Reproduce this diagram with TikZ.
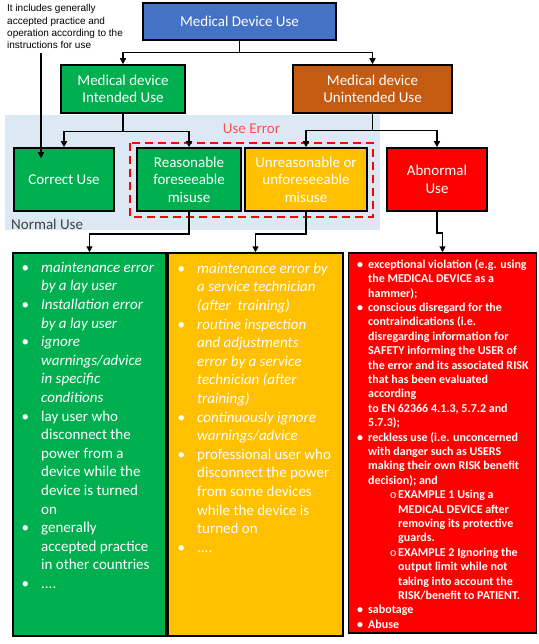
\documentclass[tikz,border=0pt]{standalone}
\usepackage{fontspec}
\setmainfont{Carlito}
\newfontfamily\notefont{Liberation Sans}
\usetikzlibrary{arrows.meta,calc}
\definecolor{cblue}{RGB}{68,114,196}
\definecolor{cgreen}{RGB}{0,176,80}
\definecolor{corange}{RGB}{197,90,17}
\definecolor{cyellow}{RGB}{255,192,0}
\definecolor{cred}{RGB}{255,0,0}
\definecolor{cbg}{RGB}{221,232,245}
\definecolor{cerr}{RGB}{255,80,80}
\definecolor{cnorm}{RGB}{64,64,64}
\newcommand\subi[1]{\makebox[30pt][l]{\hspace{22pt}\mdseries o}#1}
\newcommand\subc[1]{\hspace{30pt}#1}
\begin{document}
\begin{tikzpicture}[x=1pt,y=-1pt,
  box/.style={draw=black, line width=1.5pt, text=white, align=center,
    font=\fontsize{15}{17.5}\selectfont, inner sep=0pt},
  conn/.style={line width=1.5pt, draw=black},
  arr/.style={conn, -{Triangle[length=6pt,width=6pt]}},
  listtext/.style={anchor=north west, inner sep=0pt, text=white}]
\useasboundingbox (0,0) rectangle (538,644);
\fill[cbg] (5,115) rectangle (380,230);
\draw[cred, line width=1.5pt, dash pattern=on 8pt off 5pt] (130,143) rectangle (373,217);
\node[text=cerr, font=\fontsize{15}{17}\selectfont, inner sep=0pt] (uerr) at (251.5,129) {Use Error};
\node[text=cnorm, font=\fontsize{15}{17}\selectfont, inner sep=0pt, anchor=west] (nuse) at (11,224) {Normal Use};
\node[anchor=north west, inner sep=0pt, align=left, font=\notefont\fontsize{10}{12.3}\selectfont] (note) at (7,4.5)
 {It includes generally\\accepted practice and\\operation according to the\\instructions for use};
% boxes
\node[box, fill=cblue, minimum width=193pt, minimum height=37pt] (mdu) at (239.5,21.5) {Medical Device Use};
\node[box, fill=cgreen, minimum width=124pt, minimum height=48pt] (int) at (123,89) {Medical device\\Intended Use};
\node[box, fill=corange, minimum width=159pt, minimum height=48pt] (unint) at (372.5,89) {Medical device\\Unintended Use};
\node[box, fill=cgreen, minimum width=100pt, minimum height=63pt] (cu) at (64,179.5) {Correct Use};
\node[box, fill=cgreen, minimum width=104pt, minimum height=63pt] (rfm) at (189,179.5) {Reasonable\\foreseeable\\misuse};
\node[box, fill=cyellow, minimum width=122pt, minimum height=63pt] (ufm) at (306,179.5) {Unreasonable or\\unforeseeable\\misuse};
\node[box, fill=cred, minimum width=100pt, minimum height=63pt] (abn) at (437,179.5) {Abnormal\\Use};
\node[box, fill=cgreen, minimum width=153pt, minimum height=383pt] (glist) at (89.5,444.5) {};
\node[box, fill=cyellow, minimum width=175pt, minimum height=383pt] (ylist) at (255.5,444.5) {};
\node[box, fill=cred, minimum width=188pt, minimum height=380pt] (rlist) at (442.5,443) {};
% list texts
\node[listtext, font=\fontsize{15}{18.6}\selectfont] (gtext) at (21.5,259)
{\begin{tabular}{@{}p{19.5pt}@{}l@{}}
\textbullet & \textit{maintenance error}\\
 & \textit{by a lay user}\\
\textbullet & \textit{Installation error}\\
 & \textit{by a lay user}\\
\textbullet & \textit{ignore}\\
 & \textit{warnings/advice}\\
 & \textit{in specific}\\
 & \textit{conditions}\\
\textbullet & lay user who\\
 & disconnect the\\
 & power from a\\
 & device while the\\
 & device is turned\\
 & on\\
\textbullet & generally\\
 & accepted practice\\
 & in other countries\\
\textbullet & ....
\end{tabular}};
\node[listtext, font=\fontsize{15}{18.6}\selectfont] (ytext) at (177.5,260)
{\begin{tabular}{@{}p{19.5pt}@{}l@{}}
\textbullet & \textit{maintenance error by}\\
 & \textit{a service technician}\\
 & \textit{(after\ \ training)}\\
\textbullet & \textit{routine inspection}\\
 & \textit{and adjustments}\\
 & \textit{error by a service}\\
 & \textit{technician (after}\\
 & \textit{training)}\\
\textbullet & \textit{continuously ignore}\\
 & \textit{warnings/advice}\\
\textbullet & professional user who\\
 & disconnect the power\\
 & from some devices\\
 & while the device is\\
 & turned on\\
\textbullet & ....
\end{tabular}};
\node[listtext, font=\bfseries\fontsize{12}{14.4}\selectfont] (rtext) at (357,258)
{\begin{tabular}{@{}p{11pt}@{}l@{}}
\textbullet & exceptional violation (e.g. using\\
 & the MEDICAL DEVICE as a\\
 & hammer);\\
\textbullet & conscious disregard for the\\
 & contraindications (i.e.\\
 & disregarding information for\\
 & SAFETY informing the USER of\\
 & the error and its associated RISK\\
 & that has been evaluated\\
 & according\\
 & to EN 62366 4.1.3, 5.7.2 and\\
 & 5.7.3);\\
\textbullet & reckless use (i.e. unconcerned\\
 & with danger such as USERS\\
 & making their own RISK benefit\\
 & decision); and\\
 & \subi{EXAMPLE 1 Using a}\\
 & \subc{MEDICAL DEVICE after}\\
 & \subc{removing its protective}\\
 & \subc{guards.}\\
 & \subi{EXAMPLE 2 Ignoring the}\\
 & \subc{output limit while not}\\
 & \subc{taking into account the}\\
 & \subc{RISK/benefit to PATIENT.}\\
\textbullet & sabotage\\
\textbullet & Abuse
\end{tabular}};
% connectors
\draw[arr] (mdu.south) -- ++(0,12) -| (int.north);
\draw[arr] (mdu.south) ++(0,12) -| (unint.north);
\draw[arr] (int.south) -- ++(0,18) -| (cu.north);
\draw[arr] (int.south) ++(0,18) -| (rfm.north);
\draw[arr] (unint.south) -- ++(0,17) -| (ufm.north);
\draw[arr] (unint.south) ++(0,17) -| (abn.north);
\draw[arr] (rfm.south) -- ++(0,22) -| (glist.north);
\draw[arr] (ufm.south) -- ++(0,22) -| (ylist.north);
\draw[arr] (abn.south) -- ++(0,21) -| (rlist.north);
\coordinate (noteend) at (41,53);
\draw[arr] (noteend) -- ([yshift=-11pt]noteend |- cu.north);
\end{tikzpicture}
\end{document}
